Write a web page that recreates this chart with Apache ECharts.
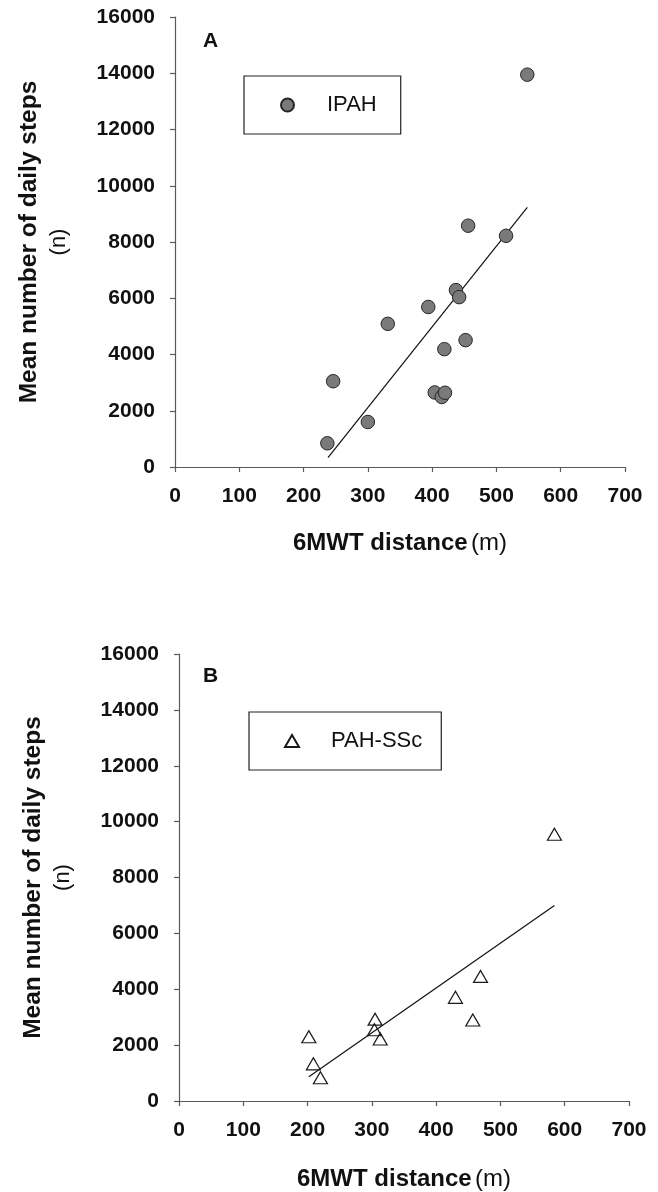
<!DOCTYPE html>
<html>
<head>
<meta charset="utf-8">
<script src="https://cdn.jsdelivr.net/npm/echarts@6/dist/echarts.min.js"></script>
<style>
  html, body { margin: 0; padding: 0; background: #fff; }
  #chart { width: 658px; height: 1192px; }
</style>
</head>
<body>
<div id="chart"></div>
<script>
// Panel A: idiopathic PAH
const ipahDistance = [237, 246, 300, 331, 394, 404, 415, 420, 419, 437, 442, 452, 456, 515, 548];
const ipahSteps    = [843, 3050, 1600, 5090, 5690, 2650, 2490, 2640, 4190, 6290, 6040, 4510, 8580, 8220, 13950];
const ipahFitDistance = [238, 548];
const ipahFitSteps    = [330, 9230];

// Panel B: PAH associated with systemic sclerosis
const sscDistance = [202, 209, 220, 304, 305, 313, 430, 457, 469, 584];
const sscSteps    = [2300, 1330, 830, 2550, 2930, 2220, 3710, 2900, 4460, 9550];
const sscFitDistance = [202, 584];
const sscFitSteps    = [870, 7000];

// Axis ticks
const xTicks = [0, 100, 200, 300, 400, 500, 600, 700];
const yTicks = [0, 2000, 4000, 6000, 8000, 10000, 12000, 14000, 16000];

const FONT = 'Liberation Sans, Arial, sans-serif';
const AXIS = '#5a5a5a';
const INK = '#111';

const zip = (a, b) => a.map((v, i) => [v, b[i]]);
const plain = v => String(v);

function xAxisFor(gridIndex, gap) {
  return {
    type: 'value', gridIndex: gridIndex,
    min: xTicks[0], max: xTicks[xTicks.length - 1], interval: xTicks[1] - xTicks[0],
    splitLine: { show: false },
    axisLine: { onZero: false, lineStyle: { color: AXIS, width: 1.2 } },
    axisTick: { show: true, length: 5, lineStyle: { color: AXIS, width: 1.2 } },
    axisLabel: { color: INK, fontFamily: FONT, fontWeight: 'bold', fontSize: 21, margin: 19, formatter: plain },
    name: '{b|6MWT distance} {r|(m)}',
    nameLocation: 'middle', nameGap: gap,
    nameTextStyle: {
      rich: {
        b: { fontFamily: FONT, fontWeight: 'bold', fontSize: 24, color: INK },
        r: { fontFamily: FONT, fontSize: 24, color: INK }
      }
    }
  };
}

function yAxisFor(gridIndex) {
  return {
    type: 'value', gridIndex: gridIndex,
    min: yTicks[0], max: yTicks[yTicks.length - 1], interval: yTicks[1] - yTicks[0],
    splitLine: { show: false },
    axisLine: { show: true, onZero: false, lineStyle: { color: AXIS, width: 1.2 } },
    axisTick: { show: true, length: 5, lineStyle: { color: AXIS, width: 1.2 } },
    axisLabel: { color: INK, fontFamily: FONT, fontWeight: 'bold', fontSize: 21, margin: 20, formatter: plain },
    name: '{b|Mean number of daily steps}\n{r|(n)}',
    nameLocation: 'middle', nameRotate: 90, nameGap: 102,
    nameTextStyle: {
      align: 'center',
      rich: {
        b: { fontFamily: FONT, fontWeight: 'bold', fontSize: 24.5, color: INK, lineHeight: 29, align: 'center' },
        r: { fontFamily: FONT, fontSize: 22, color: INK, lineHeight: 29, align: 'center' }
      }
    }
  };
}

const chart = echarts.init(document.getElementById('chart'), null, { renderer: 'canvas' });

chart.setOption({
  backgroundColor: '#fff',
  animation: false,
  grid: [
    { left: 175, top: 17, width: 450, height: 450 },
    { left: 179, top: 654, width: 450, height: 449 }
  ],
  xAxis: [xAxisFor(0, 64), xAxisFor(1, 66)],
  yAxis: [yAxisFor(0), yAxisFor(1)],
  legend: [
    {
      data: ['IPAH'], left: 244, top: 76,
      borderColor: '#222', borderWidth: 1.2, borderRadius: 0,
      padding: [18, 24, 18, 36],
      itemWidth: 13, itemHeight: 13,
      textStyle: { fontFamily: FONT, fontSize: 22, color: INK, padding: [0, 0, 0, 28] },
      selectedMode: false
    },
    {
      data: ['PAH-SSc'], left: 249, top: 712,
      borderColor: '#222', borderWidth: 1.2, borderRadius: 0,
      padding: [18, 19, 18, 35],
      itemWidth: 14, itemHeight: 12,
      textStyle: { fontFamily: FONT, fontSize: 22, color: INK, padding: [0, 0, 0, 27] },
      selectedMode: false
    }
  ],
  graphic: [
    { type: 'text', left: 203, top: 31, style: { text: 'A', font: 'bold 21px ' + FONT, fill: INK } },
    { type: 'text', left: 203, top: 666, style: { text: 'B', font: 'bold 21px ' + FONT, fill: INK } }
  ],
  series: [
    {
      name: 'IPAH fit', type: 'line', xAxisIndex: 0, yAxisIndex: 0,
      data: zip(ipahFitDistance, ipahFitSteps), showSymbol: false, symbol: 'none',
      lineStyle: { color: '#111', width: 1.2 }, z: 2
    },
    {
      name: 'IPAH', type: 'scatter', xAxisIndex: 0, yAxisIndex: 0,
      data: zip(ipahDistance, ipahSteps), symbol: 'circle', symbolSize: 13.5,
      itemStyle: { color: '#7a7a7a', borderColor: '#262626', borderWidth: 1, opacity: 1 }, z: 3
    },
    {
      name: 'PAH-SSc fit', type: 'line', xAxisIndex: 1, yAxisIndex: 1,
      data: zip(sscFitDistance, sscFitSteps), showSymbol: false, symbol: 'none',
      lineStyle: { color: '#111', width: 1.2 }, z: 2
    },
    {
      name: 'PAH-SSc', type: 'scatter', xAxisIndex: 1, yAxisIndex: 1,
      data: zip(sscDistance, sscSteps), symbol: 'triangle', symbolSize: [14, 12],
      itemStyle: { color: 'rgba(255,255,255,0)', borderColor: '#1a1a1a', borderWidth: 1.2, opacity: 1 }, z: 3
    }
  ]
});
</script>
</body>
</html>
